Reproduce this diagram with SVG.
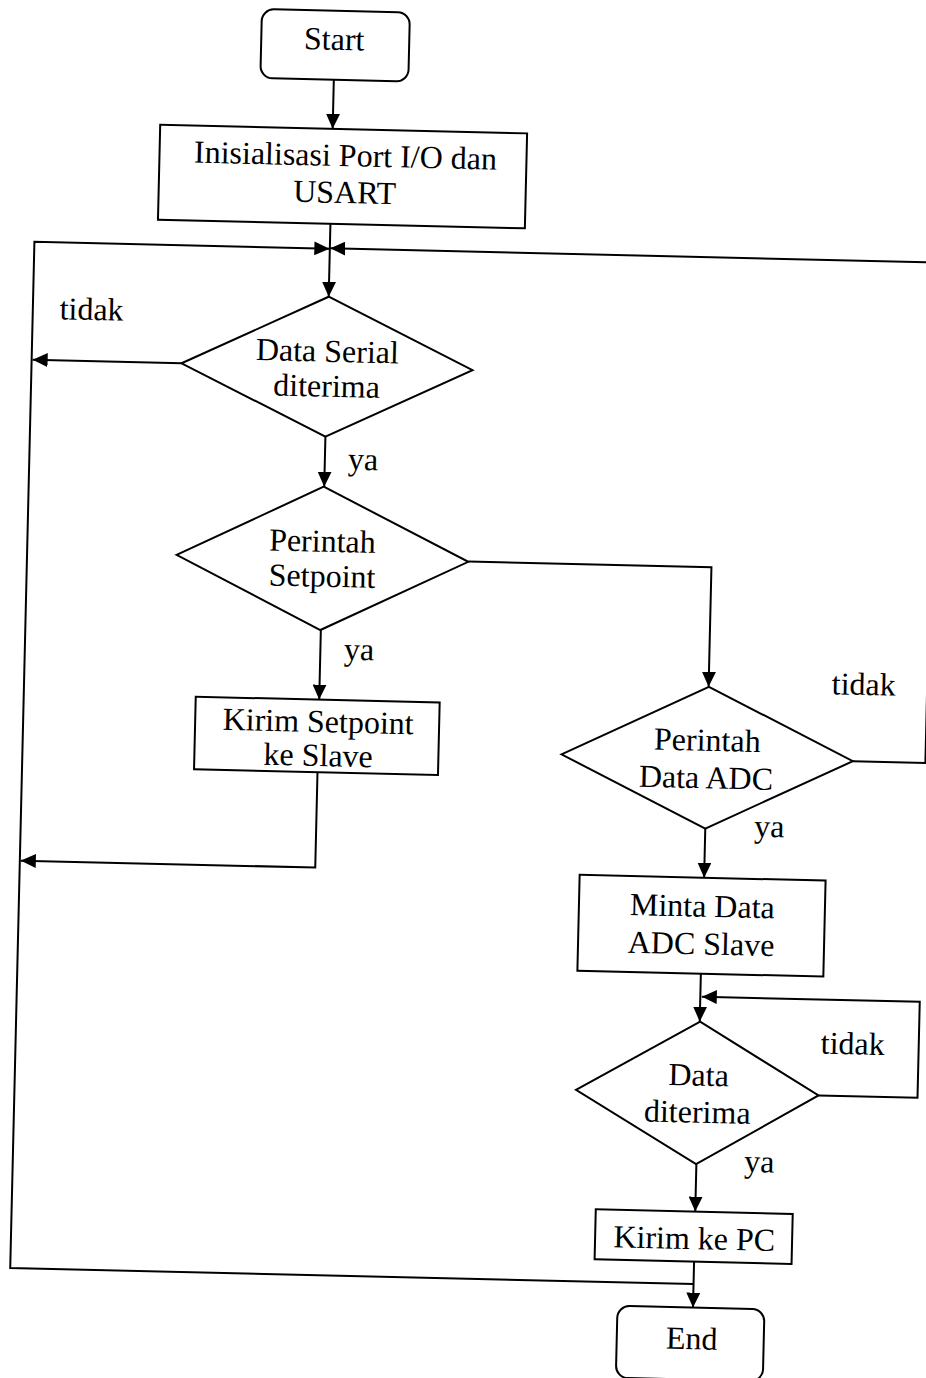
<svg xmlns="http://www.w3.org/2000/svg" width="926" height="1378" viewBox="0 0 926 1378">
<defs>
<marker id="ah" markerUnits="userSpaceOnUse" markerWidth="15" markerHeight="14" refX="15" refY="7" orient="auto">
<path d="M0,0 L15,7 L0,14 z" fill="#000"/>
</marker>
<style>
.s{fill:#fff;stroke:#000;stroke-width:2}
.c{fill:none;stroke:#000;stroke-width:2;marker-end:url(#ah)}
.p{fill:none;stroke:#000;stroke-width:2}
text{font-family:"Liberation Serif","Times New Roman",serif;font-size:32px;fill:#000;text-anchor:middle}
</style>
</defs>
<rect width="926" height="1378" fill="#fff"/>
<g transform="rotate(1.35 463 689)">
<g id="connectors">
<path class="c" d="M319.5,83 V132"/>
<path class="c" d="M319.5,227 V300"/>
<path class="c" d="M707.5,1278.5 H24 V252 H319"/>
<path class="c" d="M854.5,752 H927 V251.5 H320"/>
<path class="c" d="M174,370 H25"/>
<path class="c" d="M319.5,440 V490"/>
<path class="c" d="M319.5,633.5 V703"/>
<path class="c" d="M465.5,561.5 H708.5 V681"/>
<path class="c" d="M319.5,775.5 V871 H25"/>
<path class="c" d="M708.5,823 V872"/>
<path class="c" d="M707.5,968 V1016"/>
<path class="c" d="M828,1087 H927 V991 H709"/>
<path class="c" d="M707.5,1158.5 V1206"/>
<path class="c" d="M707.5,1256 V1302"/>
</g>
<g id="start">
<rect class="s" x="246" y="14" width="148" height="69" rx="12"/>
<text x="319" y="53">Start</text>
</g>
<g id="init">
<rect class="s" x="147" y="132" width="367" height="95"/>
<text x="333" y="169">Inisialisasi Port I/O dan</text>
<text x="333" y="206">USART</text>
</g>
<g id="d_serial">
<polygon class="s" points="174,370 319.5,300 465,370 319.5,440"/>
<text x="319.5" y="365">Data Serial</text>
<text x="319.5" y="400">diterima</text>
</g>
<g id="d_setpoint">
<polygon class="s" points="173.5,561.7 319,490 465.3,561.7 319,633.4"/>
<text x="319" y="555">Perintah</text>
<text x="319.5" y="590">Setpoint</text>
</g>
<g id="kirim_setpoint">
<rect class="s" x="196" y="703" width="244" height="72.6"/>
<text x="319" y="735.4">Kirim Setpoint</text>
<text x="319.8" y="769.4">ke Slave</text>
</g>
<g id="d_adc">
<polygon class="s" points="563,752 708.8,681 854.4,752 708.5,822.8"/>
<text x="708.5" y="745">Perintah</text>
<text x="708" y="782.6">Data ADC</text>
</g>
<g id="minta">
<rect class="s" x="584" y="872" width="246" height="96"/>
<text x="707.4" y="911">Minta Data</text>
<text x="707" y="948.7">ADC Slave</text>
</g>
<g id="d_data">
<polygon class="s" points="585.4,1087 707.9,1016 828,1087 707.2,1158.5"/>
<text x="707.7" y="1080">Data</text>
<text x="707.2" y="1117">diterima</text>
</g>
<g id="kirim_pc">
<rect class="s" x="608" y="1206" width="197" height="50"/>
<text x="707.2" y="1243.5">Kirim ke PC</text>
</g>
<g id="end">
<rect class="s" x="632" y="1302" width="147" height="72" rx="12"/>
<text x="707" y="1343.6">End</text>
</g>
<g id="labels">
<text x="82.8" y="328.8">tidak</text>
<text x="357.8" y="472.4">ya</text>
<text x="358.3" y="662.5">ya</text>
<text x="863.6" y="685.5">tidak</text>
<text x="772.5" y="829.8">ya</text>
<text x="861" y="1045">tidak</text>
<text x="770.4" y="1165">ya</text>
</g>
</g>
</svg>
